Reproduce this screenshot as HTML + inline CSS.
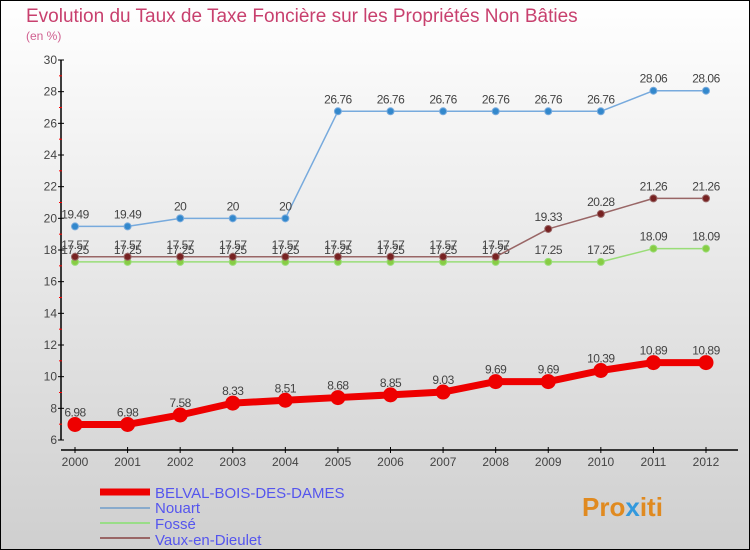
<!DOCTYPE html>
<html><head><meta charset="utf-8"><style>
body{margin:0;width:750px;height:550px;overflow:hidden;font-family:"Liberation Sans",sans-serif}
svg{display:block}
</style></head><body>
<svg id="c" width="750" height="550">
<defs><linearGradient id="bg" x1="0" y1="0" x2="0" y2="1"><stop offset="0" stop-color="#ffffff"/><stop offset="1" stop-color="#cfcfcf"/></linearGradient></defs>
<rect x="0.5" y="0.5" width="749" height="549" fill="url(#bg)" stroke="#000"/>
<text x="26" y="22" font-size="19" fill="#c8406e">Evolution du Taux de Taxe Foncière sur les Propriétés Non Bâties</text>
<text x="26" y="40" font-size="12" fill="#d06090">(en %)</text>
<g id="plot"></g>
<g>
<line x1="100" y1="492" x2="150" y2="492" stroke="#ee0000" stroke-width="7"/>
<text x="155" y="498" font-size="15" fill="#5555ee">BELVAL-BOIS-DES-DAMES</text>
<line x1="100" y1="508" x2="150" y2="508" stroke="#88aacc" stroke-width="2"/>
<text x="155" y="513" font-size="15" fill="#5555ee">Nouart</text>
<line x1="100" y1="523" x2="150" y2="523" stroke="#99dd88" stroke-width="2"/>
<text x="155" y="529" font-size="15" fill="#5555ee">Fossé</text>
<line x1="100" y1="538" x2="150" y2="538" stroke="#996666" stroke-width="2"/>
<text x="155" y="545" font-size="15" fill="#5555ee">Vaux-en-Dieulet</text>
</g>
<text x="582" y="516" font-size="26" font-weight="bold" fill="#e08a20">Pro<tspan fill="#3399dd">x</tspan>iti</text>
</svg>
<script>
const years=[2000,2001,2002,2003,2004,2005,2006,2007,2008,2009,2010,2011,2012];
const belval=[6.98,6.98,7.58,8.33,8.51,8.68,8.85,9.03,9.69,9.69,10.39,10.89,10.89];
const nouart=[19.49,19.49,20,20,20,26.76,26.76,26.76,26.76,26.76,26.76,28.06,28.06];
const fosse=[17.25,17.25,17.25,17.25,17.25,17.25,17.25,17.25,17.25,17.25,17.25,18.09,18.09];
const vaux=[17.57,17.57,17.57,17.57,17.57,17.57,17.57,17.57,17.57,19.33,20.28,21.26,21.26];
const yTicks=[6,8,10,12,14,16,18,20,22,24,26,28,30];
const NS='http://www.w3.org/2000/svg';
const g=document.getElementById('plot');
const X=i=>75+i*(706-75)/(years.length-1);
const Y=v=>440-(v-6)*(380/24);
function mk(t,a,p){const e=document.createElementNS(NS,t);for(const k in a)e.setAttribute(k,a[k]);(p||g).appendChild(e);return e;}
// axes
let ax=mk('line',{x1:61,y1:60,x2:61,y2:440,stroke:'#000','stroke-width':1.5});


let xa=mk('line',{x1:61,y1:450,x2:738,y2:450,stroke:'#000','stroke-width':1.5});


yTicks.forEach((v,i)=>{
  mk('line',{x1:58,x2:64,y1:Y(v),y2:Y(v),stroke:'#000'});
  if(i<yTicks.length-1)mk('line',{x1:59,x2:62,y1:Y(v+1),y2:Y(v+1),stroke:'#f00'});
  const t=mk('text',{x:57,y:Y(v)+4,'font-size':12,fill:'#444','text-anchor':'end'});t.textContent=v;
  
  
});
years.forEach((y,i)=>{
  mk('line',{x1:X(i),x2:X(i),y1:447,y2:453,stroke:'#000'});
  const t=mk('text',{x:X(i),y:466,'font-size':12,fill:'#444','text-anchor':'middle'});t.textContent=y;
  
  
});
function series(arr,name,color,w,r,dot){
  const pts=arr.map((v,i)=>X(i)+','+Y(v)).join(' ');
  const l=mk('polyline',{points:pts,fill:'none',stroke:color,'stroke-width':w,'stroke-linejoin':'round'});
  
  
  arr.forEach((v,i)=>{
    const c=mk('circle',{cx:X(i),cy:Y(v),r:r,fill:dot,stroke:color,'stroke-width':1});
    
    
    const t=mk('text',{x:X(i),y:Y(v)-8,'font-size':12,fill:'#444','text-anchor':'middle','letter-spacing':'-0.5'});
    t.textContent=v;
    
    
  });
}
series(fosse,'fosse','#99dd77',1.5,3.5,'#88cc44');
series(vaux,'vaux','#996666',1.5,3.5,'#772222');
series(nouart,'nouart','#77aadd',1.5,3.5,'#3388cc');
series(belval,'belval','#ee0000',7,7,'#ee0000');
</script>
</body></html>
